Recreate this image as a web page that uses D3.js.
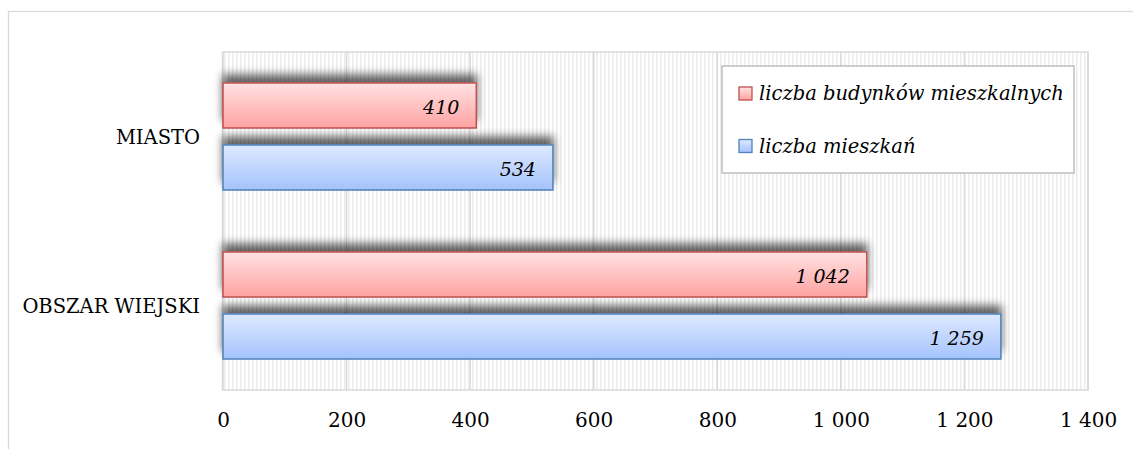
<!DOCTYPE html>
<html>
<head>
<meta charset="utf-8">
<script src="https://cdn.jsdelivr.net/npm/d3@7"></script>
<style>
  body { margin: 0; background: #fff; }
  text { font-family: "DejaVu Serif", "Liberation Serif", serif; fill: #000; }
</style>
</head>
<body>
<svg id="chart"></svg>
<script>
// data
const categories = ["MIASTO", "OBSZAR WIEJSKI"];
const seriesNames = ["liczba budynków mieszkalnych", "liczba mieszkań"];
const buildings = [410, 1042];
const dwellings = [534, 1259];
const tickValues = [0, 200, 400, 600, 800, 1000, 1200, 1400];

const W = 1133, H = 449;
const plot = {left: 223, top: 52, right: 1088, bottom: 390};

const svg = d3.select("#chart").attr("width", W).attr("height", H);
const defs = svg.append("defs");

// striped plot background
const pat = defs.append("pattern")
    .attr("id", "stripes").attr("patternUnits", "userSpaceOnUse")
    .attr("width", 4).attr("height", 4);
pat.append("rect").attr("width", 4).attr("height", 4).attr("fill", "#fff");
pat.append("rect").attr("x", 0).attr("width", 1.5).attr("height", 4).attr("fill", "#ececec");

// bar gradients
const seriesStyle = [
    {top: "#ffe2e2", bottom: "#ffa2a2", stroke: "#c0504d", id: "gRed"},
    {top: "#dee9ff", bottom: "#a4c3fc", stroke: "#4f81bd", id: "gBlue"}
];
seriesStyle.forEach(s => {
    const g = defs.append("linearGradient").attr("id", s.id)
        .attr("x1", 0).attr("y1", 0).attr("x2", 0).attr("y2", 1);
    g.append("stop").attr("offset", "0%").attr("stop-color", s.top);
    g.append("stop").attr("offset", "100%").attr("stop-color", s.bottom);
});

// shadow thrown upward
const f = defs.append("filter").attr("id", "shadow")
    .attr("x", "-5%").attr("y", "-60%").attr("width", "110%").attr("height", "200%");
f.append("feGaussianBlur").attr("in", "SourceAlpha").attr("stdDeviation", 4).attr("result", "b");
f.append("feOffset").attr("in", "b").attr("dx", 0).attr("dy", -8).attr("result", "o");
f.append("feComponentTransfer").attr("in", "o").attr("result", "s")
  .append("feFuncA").attr("type", "linear").attr("slope", 0.6);
const fm = f.append("feMerge");
fm.append("feMergeNode").attr("in", "s");
fm.append("feMergeNode").attr("in", "SourceGraphic");

// outer chart frame
svg.append("rect")
    .attr("x", 8.5).attr("y", 11.5).attr("width", 1300).attr("height", 600)
    .attr("fill", "none").attr("stroke", "#d9d9d9").attr("stroke-width", 1.3);

// scales
const x = d3.scaleLinear().domain([0, 1400]).range([plot.left, plot.right]);
const y = d3.scaleBand().domain(categories).range([plot.top, plot.bottom]);
const ySeries = d3.scaleBand().domain([0, 1]).range([0, y.bandwidth()])
    .paddingInner(17 / 62).paddingOuter(0.5);

// plot area
svg.append("rect")
    .attr("x", plot.left).attr("y", plot.top)
    .attr("width", plot.right - plot.left).attr("height", plot.bottom - plot.top)
    .attr("fill", "url(#stripes)");

svg.append("g").selectAll("line")
    .data(tickValues)
    .join("line")
    .attr("x1", d => x(d)).attr("x2", d => x(d))
    .attr("y1", plot.top).attr("y2", plot.bottom)
    .attr("stroke", "#d9d9d9").attr("stroke-width", 1.5);

svg.append("rect")
    .attr("x", plot.left - 0.5).attr("y", plot.top)
    .attr("width", plot.right - plot.left + 0.5).attr("height", plot.bottom - plot.top)
    .attr("fill", "none").attr("stroke", "#d9d9d9").attr("stroke-width", 1.5);

// bars
const seriesValues = [buildings, dwellings];
const bars = [];
categories.forEach((c, ci) => {
    seriesValues.forEach((vals, si) => bars.push({cat: c, s: si, v: vals[ci]}));
});

const barG = svg.append("g");
barG.selectAll("rect")
    .data(bars)
    .join("rect")
    .attr("x", x(0))
    .attr("y", d => y(d.cat) + ySeries(d.s))
    .attr("width", d => x(d.v) - x(0))
    .attr("height", ySeries.bandwidth())
    .attr("fill", d => `url(#${seriesStyle[d.s].id})`)
    .attr("stroke", d => seriesStyle[d.s].stroke)
    .attr("stroke-width", 1.5)
    .attr("filter", "url(#shadow)");

const fmt = v => d3.format(",")(v).replace(/,/g, " ");

svg.append("g").selectAll("text")
    .data(bars)
    .join("text")
    .attr("x", d => x(d.v) - 17)
    .attr("y", d => y(d.cat) + ySeries(d.s) + ySeries.bandwidth() / 2 + 8)
    .attr("text-anchor", "end")
    .attr("font-style", "italic")
    .attr("font-size", 19)
    .text(d => fmt(d.v));

// category labels
svg.append("g").selectAll("text")
    .data(categories)
    .join("text")
    .attr("x", 200)
    .attr("y", d => y(d) + y.bandwidth() / 2 + 7)
    .attr("text-anchor", "end")
    .attr("font-size", 19.5)
    .text(d => d);

// x axis labels
const xAxis = svg.append("g")
    .attr("transform", `translate(0,${plot.bottom})`)
    .call(d3.axisBottom(x).tickValues(tickValues).tickSize(0).tickPadding(23).tickFormat(fmt));
xAxis.select(".domain").remove();
xAxis.selectAll("text")
    .attr("font-family", "DejaVu Serif, Liberation Serif, serif")
    .attr("font-size", 20).attr("fill", "#000");

// legend
const lg = svg.append("g");
lg.append("rect")
    .attr("x", 722).attr("y", 66).attr("width", 352).attr("height", 107)
    .attr("fill", "#fff").attr("stroke", "#bfbfbf").attr("stroke-width", 1.5);
const items = lg.selectAll("g.item")
    .data(seriesNames)
    .join("g").attr("class", "item")
    .attr("transform", (d, i) => `translate(739,${87 + i * 52.5})`);
items.append("rect")
    .attr("width", 13).attr("height", 13)
    .attr("fill", (d, i) => `url(#${seriesStyle[i].id})`)
    .attr("stroke", (d, i) => seriesStyle[i].stroke).attr("stroke-width", 1.3);
items.append("text")
    .attr("x", 20).attr("y", 13)
    .attr("font-style", "italic").attr("font-size", 19.5)
    .text(d => d);
</script>
</body>
</html>
